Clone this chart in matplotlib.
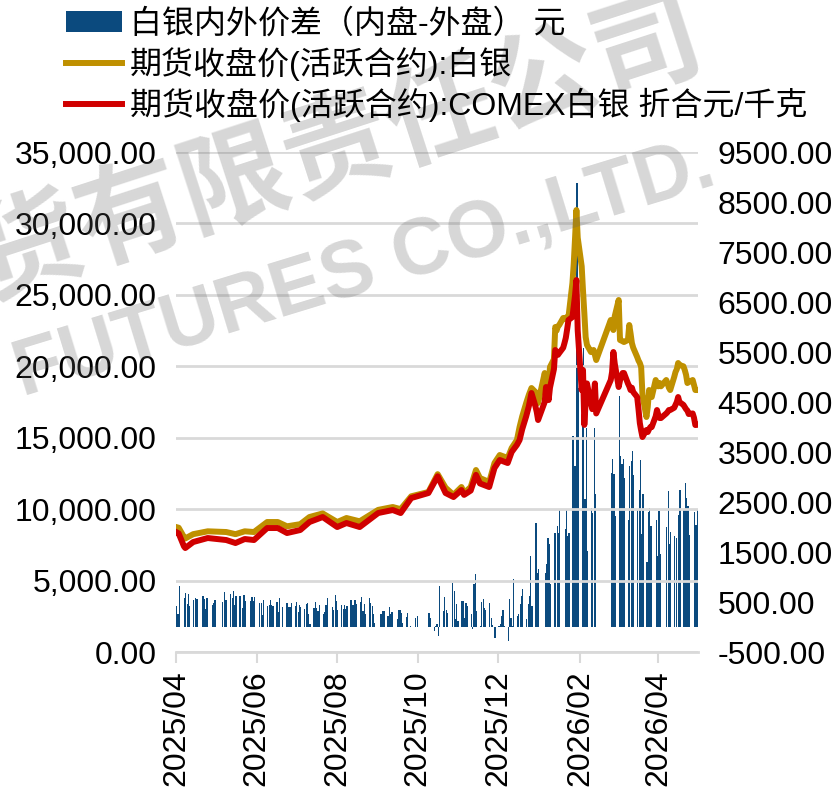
import numpy as np
import pandas as pd
import matplotlib
matplotlib.use('Agg')
import matplotlib.pyplot as plt
import matplotlib.dates as mdates
from matplotlib.ticker import FuncFormatter, MultipleLocator

nan = np.nan

# SHFE trading calendar (exchange holidays removed)
holidays = ['2025-04-04', '2025-05-01', '2025-05-02', '2025-05-05', '2025-06-02',
            '2025-10-01', '2025-10-02', '2025-10-03', '2025-10-06', '2025-10-07',
            '2025-10-08', '2026-01-01', '2026-01-02', '2026-02-16', '2026-02-17',
            '2026-02-18', '2026-02-19', '2026-02-20', '2026-02-23', '2026-04-06']
days = pd.bdate_range('2025-04-01', '2026-04-30', freq='C', holidays=holidays)

# spread bars (yuan), one per trading day, month by month
spread_2504 = [420, 260, 820, 580, 680, 460, 660, 420, 540, 580, 560, 560, nan, 620, 560,
               360, 580, nan, 440, 480, 540]
spread_2505 = [500, 700, 540, 540, 660, 580, 720, 440, 620, 620, nan, 380, 640, 520, nan,
               520, 600, 520, 600]
spread_2506 = [480, 480, 240, 540, 420, 440, 540, 440, 420, 500, 300, 580, nan, 400, 480,
               480, 400, 400, 480, 420]
spread_2507 = [500, 300, 440, 400, 360, 460, 473, 267, 53, 387, 500, 387, 320, 440, 253,
               307, 433, 587, nan, 400, 340, 640, 520]
spread_2508 = [340, 433, 367, 433, 367, 420, 540, 440, 440, 540, 467, 493, 600, 320, 467,
               253, 573, 473, 420, 253, 73]
spread_2509 = [nan, 253, 253, 320, 320, 220, 400, 267, 307, nan, 153, 333, 333, 273, 87,
               200, 273, nan, 20, nan, 173, 220]
spread_2510 = [273, 187, -80, 20, 53, -180, 813, 320, 607, 347, 280, nan, 880, 713, 153,
               453, 120]
spread_2511 = [520, 520, 187, 487, 420, 253, -47, 860, 1053, 320, 20, 507, 553, 387, 333,
               487, 173, 33, nan, -213]
spread_2512 = [20, 53, 220, 333, 20, -280, 560, 187, 20, 960, 220, 253, 453, 620, 753,
               153, 467, 620, 1420, 420, 2087, 1087, 1153]
spread_2601 = [1087, 1253, 1787, 1653, 853, 1887, 1887, 2020, 1887, 2353, nan, 1953, 2353,
               1820, 1887, 3820, 3220, 3220, 8887, 4787]
spread_2602 = [4853, 5587, 2553, 3987, 1520, 2387, 2287, 3987, 2653, nan, 3087, 3353, 3053,
               2220]
spread_2603 = [4620, 3420, 3253, 3353, 2987, 2133, 3220, 3320, 3520, 3040, 2353, 2733, 3333,
               1853, 2653, 1300, 2307, 2387, 2020, nan, 2133, 1420]
spread_2604 = [2320, 1453, nan, 2000, 2720, 1653, 1907, 1820, 1787, nan, 2240, 2740, 2353,
               2887, 2573, 2413, 1840, nan, 2307, 2040, 2353]
spread = (spread_2504 + spread_2505 + spread_2506 + spread_2507 + spread_2508 + spread_2509
          + spread_2510 + spread_2511 + spread_2512 + spread_2601 + spread_2602
          + spread_2603 + spread_2604)

# price lines: sparse points in 2025, daily from 2026-01-05
line_dates_2025 = ['2025-04-01', '2025-04-03', '2025-04-07', '2025-04-08', '2025-04-14', '2025-04-25',
                   '2025-05-09', '2025-05-16', '2025-05-23', '2025-05-30',
                   '2025-06-09', '2025-06-17', '2025-06-24',
                   '2025-07-04', '2025-07-11', '2025-07-21',
                   '2025-08-01', '2025-08-08', '2025-08-18',
                   '2025-09-01', '2025-09-12', '2025-09-18', '2025-09-26',
                   '2025-10-09', '2025-10-16', '2025-10-22', '2025-10-28',
                   '2025-11-03', '2025-11-05', '2025-11-10', '2025-11-14', '2025-11-17', '2025-11-24', '2025-11-28',
                   '2025-12-02', '2025-12-08', '2025-12-11', '2025-12-15', '2025-12-17', '2025-12-19',
                   '2025-12-22', '2025-12-24', '2025-12-26', '2025-12-29', '2025-12-30', '2025-12-31']
shfe_silver = [8750, 8700, 8050, 7950, 8250, 8450,
               8400, 8250, 8450, 8400,
               9100, 9100, 8800,
               8950, 9450, 9700,
               9100, 9380, 9150,
               9950, 10150, 10000, 10900,
               11200, 12450, 11500, 11000,
               11550, 11130, 11550, 12740, 12180, 11900, 13230,
               13790, 13580, 14280, 14840, 15750, 16500, 17430, 18000, 18480, 18200, 17850, 17430,
               # 2026-01
               19530, 19000, 18830, 18600, 19950, 20500, 22750, 22500, 22800, 22890,
               23380, 23300, 23400, 23450, 23450, 25830, 27200, 29000, 30940, 29000,
               # 2026-02
               27000, 25300, 23730, 22050, 21500, 21000, 21100, 21140, 20800, 20440,
               23240, 22800, 22540, 23500,
               # 2026-03
               24640, 21840, 21800, 21750, 21700, 21840, 22890, 22300, 21630, 21300,
               20650, 20400, 20230, 19950, 18000, 16450, 17150, 18340, 17850, 17850,
               19040, 18830,
               # 2026-04
               18600, 18830, 18600, 19040, 18800, 18500, 18340, 19250, 19600, 19800,
               20230, 20090, 20000, 19740, 19400, 18830, 18900, 19040, 18700, 18340, 18340]
comex_silver = [8400, 8300, 7400, 7280, 7700, 7980,
                7840, 7630, 7910, 7840,
                8680, 8680, 8330,
                8540, 9100, 9450,
                8750, 9030, 8750,
                9730, 9940, 9730, 10780,
                11130, 12300, 11130, 10850,
                11340, 11000, 11300, 12400, 11800, 11550, 12880,
                13440, 13230, 14000, 14500, 14840, 15600, 16500, 17200, 18130, 17200, 16800, 16240,
                # 2026-01
                17500, 18550, 18200, 17640, 18500, 19800, 21140, 21000, 20800, 20930,
                21300, 21630, 22000, 22600, 23240, 23450, 24200, 25000, 26040, 22500,
                # 2026-02
                18340, 19740, 15900, 17500, 18800, 17400, 17000, 17800, 18800, 16700,
                19040, 19600, 21000, 20200,
                # 2026-03
                18550, 19000, 19300, 19530, 19530, 18800, 18600, 18340, 18500, 18200,
                17850, 17000, 16030, 15500, 15050, 15540, 15400, 15600, 15750, 15750,
                16500, 16940,
                # 2026-04
                16600, 16380, 16380, 16700, 16800, 16940, 16940, 17100, 17300, 17500,
                17850, 17500, 17300, 17150, 17000, 16900, 16660, 16700, 16400, 15890, 15900]

line_dates = list(pd.to_datetime(line_dates_2025)) + list(days[days >= '2026-01-05'])

label_spread = '白银内外价差（内盘-外盘） 元'
label_shfe = '期货收盘价(活跃合约):白银'
label_comex = '期货收盘价(活跃合约):COMEX白银 折合元/千克'

plt.rcParams['font.family'] = ['Liberation Sans', 'Noto Sans CJK SC']
plt.rcParams['axes.unicode_minus'] = False

fig = plt.figure(figsize=(8.39, 7.91), dpi=100)
ax = fig.add_axes([0.2098, 0.1757, 0.6221, 0.6321])
ax2 = ax.twinx()

n = min(len(days), len(spread))
bars = ax2.bar(days[:n], spread[:n], width=0.9, align='edge', color='#0B4A7E',
               label=label_spread)
l1, = ax.plot(line_dates, shfe_silver, color='#BF9000', lw=4.3,
              solid_joinstyle='round', label=label_shfe)
l2, = ax.plot(line_dates, comex_silver, color='#D00000', lw=4.3,
              solid_joinstyle='round', label=label_comex)

ax.set_zorder(ax2.get_zorder() + 1)
ax.patch.set_visible(False)

ax.set_ylim(0, 35000)
ax.yaxis.set_major_locator(MultipleLocator(5000))
ax.yaxis.set_major_formatter(FuncFormatter(lambda v, p: f'{v:,.2f}'))
ax2.set_ylim(-500, 9500)
ax2.set_yticks(np.arange(-500, 9501, 1000))
ax2.yaxis.set_major_formatter(FuncFormatter(lambda v, p: f'{v:.2f}'))

ax.set_xlim(pd.Timestamp('2025-04-01'), pd.Timestamp('2026-05-01'))
ax.xaxis.set_major_locator(mdates.MonthLocator(bymonth=[2, 4, 6, 8, 10, 12]))
ax.xaxis.set_major_formatter(mdates.DateFormatter('%Y/%m'))

ax.grid(axis='y', color='#d9d9d9', lw=2)
for a in (ax, ax2):
    for s in ('top', 'left', 'right'):
        a.spines[s].set_visible(False)
ax2.spines['bottom'].set_visible(False)
ax.spines['bottom'].set_color('#d9d9d9')
ax.spines['bottom'].set_linewidth(2)

ax.tick_params(axis='x', length=8, width=1.5, color='#d9d9d9', labelsize=23,
               labelrotation=90, pad=5)
ax.tick_params(axis='y', length=0, labelsize=23, pad=14)
ax2.tick_params(axis='y', length=0, labelsize=23, pad=14)

fig.legend([bars, l1, l2], [label_spread, label_shfe, label_comex],
           loc='upper left', bbox_to_anchor=(0.075, 0.993), frameon=False,
           fontsize=23, handlelength=1.75, handleheight=0.65, handletextpad=0.25,
           labelspacing=0.22, borderpad=0.1, borderaxespad=0)

# watermark (partly off the left edge, as in the original)
fig.text(287 / 839, 1 - 168 / 791, '期货有限责任公司', fontsize=78, fontweight='bold',
         color='#606060', alpha=0.25, rotation=18, ha='center', va='center')
fig.text(365 / 839, 1 - 270 / 791, 'FUTURES CO.,LTD.', fontsize=57, fontweight='bold',
         color='#606060', alpha=0.25, rotation=17, ha='center', va='center')

fig.savefig('out.png', dpi=100)
